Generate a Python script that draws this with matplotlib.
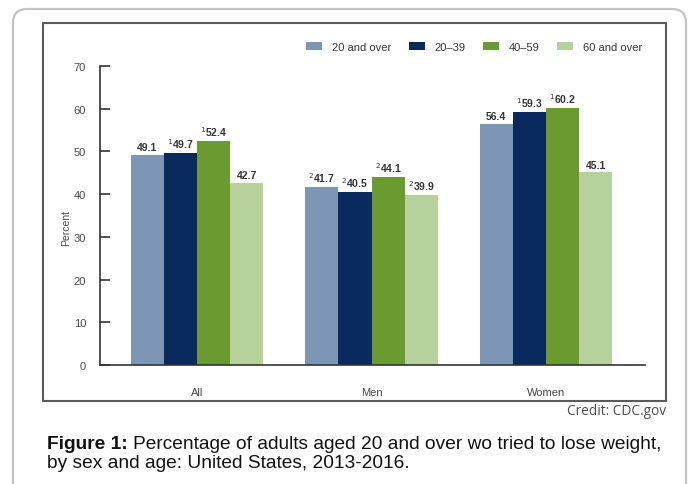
import matplotlib
matplotlib.use("Agg")
import matplotlib.pyplot as plt
import numpy as np
from matplotlib.patches import Rectangle, PathPatch
from matplotlib.path import Path

plt.rcParams['font.family'] = ['Liberation Sans', 'DejaVu Sans']

groups = ["All", "Men", "Women"]
series = ["20 and over", "20\u201339", "40\u201359", "60 and over"]
values = {
    "20 and over": [49.1, 41.7, 56.4],
    "20\u201339": [49.7, 40.5, 59.3],
    "40\u201359": [52.4, 44.1, 60.2],
    "60 and over": [42.7, 39.9, 45.1],
}
notes = {
    "20 and over": ["", "2", ""],
    "20\u201339": ["1", "2", "1"],
    "40\u201359": ["1", "2", "1"],
    "60 and over": ["", "2", ""],
}
colors = ["#7d95b4", "#0a2a5e", "#6b9b30", "#b6d19b"]
yticks = [0, 10, 20, 30, 40, 50, 60, 70]

W, H = 692, 485
fig = plt.figure(figsize=(W / 100, H / 100), dpi=100)

def fx(px):
    return px / W

def fy(py):
    return 1 - py / H

# outer page border: open at the bottom, rounded top corners
L, R, T, r = 13, 686, 10, 14
verts = [(L, H + 5), (L, T + r), (L, T), (L + r, T), (R - r, T),
         (R, T), (R, T + r), (R, H + 5)]
codes = [Path.MOVETO, Path.LINETO, Path.CURVE3, Path.CURVE3, Path.LINETO,
         Path.CURVE3, Path.CURVE3, Path.LINETO]
border = Path([(fx(a), fy(b)) for a, b in verts], codes)
fig.patches.append(PathPatch(border, transform=fig.transFigure, fill=False,
                             edgecolor="#c4c4c4", linewidth=1.6, zorder=0))

# frame around the chart
frame = Rectangle((fx(43), fy(402)), fx(666) - fx(43), fy(24) - fy(402),
                  transform=fig.transFigure, fill=False,
                  edgecolor="#5a5a5a", linewidth=1.5, zorder=0)
fig.patches.append(frame)

ax = fig.add_axes([fx(100), fy(366), fx(645) - fx(100), fy(67) - fy(366)])

x = np.arange(len(groups))
bw = 0.19
for i, (s, c) in enumerate(zip(series, colors)):
    pos = x + (i - 1.5) * bw
    bars = ax.bar(pos, values[s], width=bw, color=c, edgecolor="none", zorder=2)
    for b, v, n in zip(bars, values[s], notes[s]):
        lab = (r"$^{%s}$" % n if n else "") + f"{v:.1f}"
        ax.annotate(lab, (b.get_x() + b.get_width() / 2, v),
                    xytext=(0, 2), textcoords="offset points",
                    ha="center", va="bottom", fontsize=7.5,
                    color="#333333", fontweight="bold")

ax.set_xlim(-0.556, 2.567)
ax.set_ylim(0, 70)
ax.set_yticks(yticks)
ax.set_xticks(x)
ax.set_xticklabels(groups)
ax.tick_params(axis="y", direction="in", length=7, width=1.2, color="#333333",
               labelsize=8, labelcolor="#444444", pad=10)
ax.tick_params(axis="x", length=0, labelsize=8, labelcolor="#444444", pad=16)
for sp in ["top", "right"]:
    ax.spines[sp].set_visible(False)
for sp in ["left", "bottom"]:
    ax.spines[sp].set_color("#333333")
    ax.spines[sp].set_linewidth(1.2)
ax.set_ylabel("Percent", fontsize=7.5, color="#444444")
ax.yaxis.set_label_coords(-0.053, 0.46)

leg = ax.legend(series, loc="upper right", bbox_to_anchor=(fx(652), fy(33)),
                bbox_transform=fig.transFigure, ncol=4, frameon=False,
                fontsize=8, handlelength=1.45, handleheight=0.65,
                columnspacing=1.6, handletextpad=0.85)
for t in leg.get_texts():
    t.set_color("#333333")

fig.text(fx(666), fy(412), "Credit: CDC.gov", ha="right", va="center",
         fontsize=9.8, color="#4a4a4a", family=["Open Sans", "DejaVu Sans"])

cap = 13.8
t1 = fig.text(fx(47), fy(445), "Figure 1:", ha="left", va="center",
              fontsize=cap, fontweight="bold", color="#111111")
fig.canvas.draw()
bb = t1.get_window_extent()
fig.text((bb.x1 + 5) / W, fy(445),
         "Percentage of adults aged 20 and over wo tried to lose weight,",
         ha="left", va="center", fontsize=cap, color="#111111")
fig.text(fx(47), fy(464), "by sex and age: United States, 2013-2016.",
         ha="left", va="center", fontsize=cap, color="#111111")

fig.savefig("out.png", dpi=100)
